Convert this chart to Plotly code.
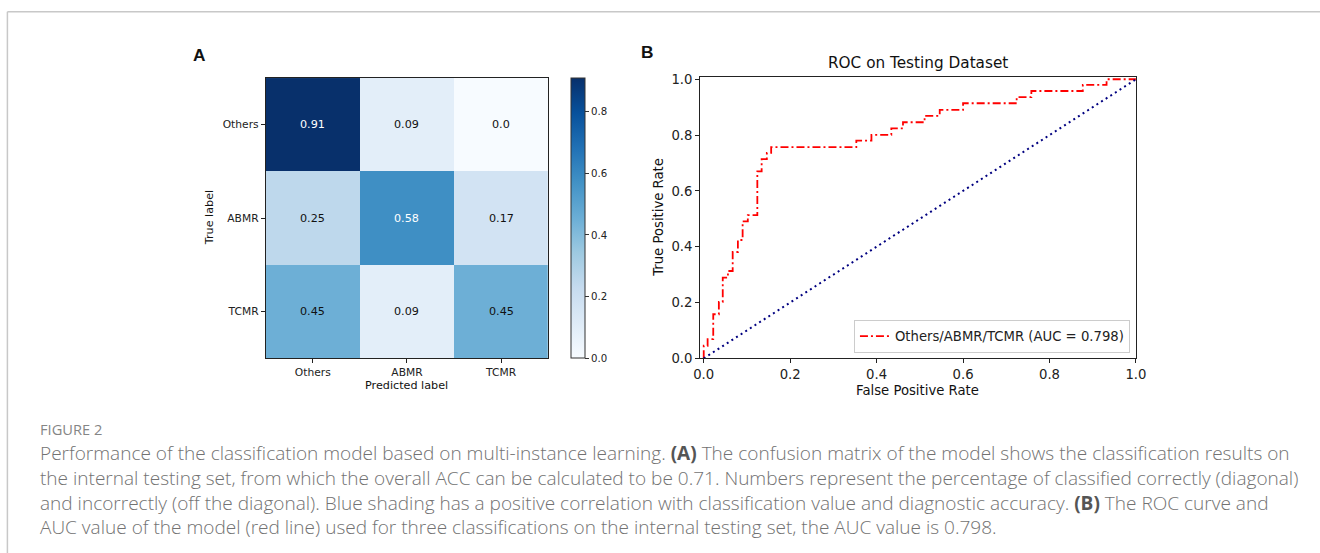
import plotly.graph_objects as go

W, H = 1320, 553
# Measured mapping of figure pixels to the photographed picture (from earlier runs):
# picture_x = AX + SX * fig_x ; picture_y = AY + SY * fig_y. Positions below are given in
# picture pixels of the reference and converted back to figure pixels.
AX, SX = 8.6, 0.985
AY, SY = 4.7, 0.98
FS = 1.0 / ((SX + SY) / 2)

# ---- data ----
classes = ["Others", "ABMR", "TCMR"]
cm_others = [0.91, 0.09, 0.0]
cm_abmr = [0.25, 0.58, 0.17]
cm_tcmr = [0.45, 0.09, 0.45]

roc_fpr = [0.0, 0.009, 0.022, 0.035, 0.044, 0.056, 0.067, 0.079, 0.090, 0.102, 0.124,
           0.134, 0.146, 0.156, 0.353, 0.388, 0.434, 0.461, 0.511, 0.546, 0.600,
           0.724, 0.758, 0.877, 0.932, 1.0]
roc_tpr = [0.0, 0.045, 0.069, 0.158, 0.202, 0.289, 0.313, 0.381, 0.424, 0.491, 0.513,
           0.670, 0.714, 0.736, 0.757, 0.780, 0.801, 0.824, 0.846, 0.869, 0.890,
           0.914, 0.936, 0.958, 0.980, 1.0]
chance = [0.0, 1.0]
auc_label = "Others/ABMR/TCMR (AUC = 0.798)"
cb_ticks = [0.0, 0.2, 0.4, 0.6, 0.8]
roc_ticks = [0.0, 0.2, 0.4, 0.6, 0.8, 1.0]

blues = [[0.0, "#f7fbff"], [0.125, "#deebf7"], [0.25, "#c6dbef"], [0.375, "#9ecae1"],
         [0.5, "#6baed6"], [0.625, "#4292c6"], [0.75, "#2171b5"], [0.875, "#08519c"],
         [1.0, "#08306b"]]

def px_x(x):
    return ((x - AX) / SX) / W

def px_y(y):
    return 1 - ((y - AY) / SY) / H

def fs(s):
    return round(s * FS, 2)

z = [cm_others, cm_abmr, cm_tcmr]
zmax = max(max(r) for r in z)

fig = go.Figure()

fig.add_trace(go.Heatmap(
    z=z, x=classes, y=classes, colorscale=blues, zmin=0, zmax=zmax,
    xaxis="x", yaxis="y", showscale=True, hoverinfo="skip",
    colorbar=dict(x=px_x(572), xanchor="left", xpad=0, ypad=0,
                  y=px_y(359), yanchor="bottom", len=(359 - 78) / SY / H, lenmode="fraction",
                  thickness=14 / SX, outlinewidth=1, outlinecolor="#333",
                  ticks="outside", ticklen=4, tickcolor="#333",
                  tickvals=cb_ticks, tickformat=".1f",
                  tickfont=dict(family="DejaVu Sans", size=fs(10), color="#222")),
))

fig.add_trace(go.Scatter(
    x=roc_fpr, y=roc_tpr, mode="lines",
    line=dict(color="red", width=1.8, dash="8px,3px,2px,3px", shape="vh"),
    name=auc_label, xaxis="x2", yaxis="y2", showlegend=True, hoverinfo="skip"))
fig.add_trace(go.Scatter(
    x=chance, y=chance, mode="lines", line=dict(color="navy", width=2, dash="2px,3.5px"),
    xaxis="x2", yaxis="y2", showlegend=False, hoverinfo="skip"))

annotations = []
thr = zmax / 2
for i, row in enumerate(z):
    for j, v in enumerate(row):
        annotations.append(dict(x=classes[j], y=classes[i], xref="x", yref="y", text=str(v),
                                showarrow=False,
                                font=dict(family="DejaVu Sans", size=fs(11),
                                          color="white" if v > thr else "#111")))

def ann(x, y, text, size, color="#111", family="DejaVu Sans", angle=0, xanchor="center",
        weight=None, align="center"):
    f = dict(family=family, size=fs(size), color=color)
    if weight:
        f["weight"] = weight
    annotations.append(dict(x=px_x(x), y=px_y(y), xref="paper", yref="paper", text=text,
                            showarrow=False, textangle=angle, xanchor=xanchor, yanchor="middle",
                            align=align, font=f))

ann(408, 387, "Predicted label", 11)
ann(211, 218, "True label", 11, angle=-90)
ann(918, 63, "ROC on Testing Dataset", 15)
ann(918, 392, "False Positive Rate", 13)
ann(659, 218, "True Positive Rate", 13, angle=-90)
ann(201, 55, "<b>A</b>", 17, family="Liberation Sans")
ann(648, 52, "<b>B</b>", 17, family="Liberation Sans")

cap_color = "#727272"
bA = "<span style='color:#555555'><b>(A)</b></span>"
bB = "<span style='color:#555555'><b>(B)</b></span>"
ann(40, 430, "FIGURE 2", 14.4, color="#858585", family="Open Sans", xanchor="left")
cap_lines = [
    "Performance of the classification model based on multi-instance learning. " + bA + " The confusion matrix of the model shows the classification results on",
    "the internal testing set, from which the overall ACC can be calculated to be 0.71. Numbers represent the percentage of classified correctly (diagonal)",
    "and incorrectly (off the diagonal). Blue shading has a positive correlation with classification value and diagnostic accuracy. " + bB + " The ROC curve and",
    "AUC value of the model (red line) used for three classifications on the internal testing set, the AUC value is 0.798.",
]
ann(40, 491.5, "<br>".join(cap_lines), 18.72, color=cap_color, family="Open Sans",
    xanchor="left", weight=300, align="left")

shapes = [
    dict(type="line", xref="paper", yref="paper", x0=px_x(9), y0=-0.05, x1=px_x(9), y1=px_y(11.5),
         line=dict(color="#c8c8c8", width=1.5)),
    dict(type="line", xref="paper", yref="paper", x0=px_x(9), y0=px_y(11.5), x1=1.05, y1=px_y(11.5),
         line=dict(color="#c8c8c8", width=1.5)),
]

axis_common = dict(showgrid=False, zeroline=False, showline=True, linecolor="#222", linewidth=1,
                   mirror=True, ticks="outside", ticklen=4, tickcolor="#222")

fig.update_layout(
    width=W, height=H, margin=dict(l=0, r=0, t=0, b=0),
    paper_bgcolor="white", plot_bgcolor="white",
    xaxis=dict(domain=[px_x(267), px_x(549)], anchor="y",
               tickfont=dict(family="DejaVu Sans", size=fs(10.5), color="#222"), **axis_common),
    yaxis=dict(domain=[px_y(359), px_y(78)], anchor="x", autorange="reversed",
               tickfont=dict(family="DejaVu Sans", size=fs(10.5), color="#222"), **axis_common),
    xaxis2=dict(domain=[px_x(700.7), px_x(1136)], anchor="y2", range=[-0.0085, 1.0],
                tickvals=roc_ticks, tickformat=".1f",
                tickfont=dict(family="DejaVu Sans", size=fs(13), color="#222"), **axis_common),
    yaxis2=dict(domain=[px_y(359.3), px_y(77)], anchor="x2", range=[0.0, 1.008],
                tickvals=roc_ticks, tickformat=".1f",
                tickfont=dict(family="DejaVu Sans", size=fs(13), color="#222"), **axis_common),
    legend=dict(x=px_x(1130), y=px_y(354), xanchor="right", yanchor="bottom",
                bgcolor="white", bordercolor="#cccccc", borderwidth=1,
                font=dict(family="DejaVu Sans", size=fs(13), color="#222"),
                itemwidth=30, tracegroupgap=0),
    annotations=annotations, shapes=shapes,
)

fig.write_html("out.html")
